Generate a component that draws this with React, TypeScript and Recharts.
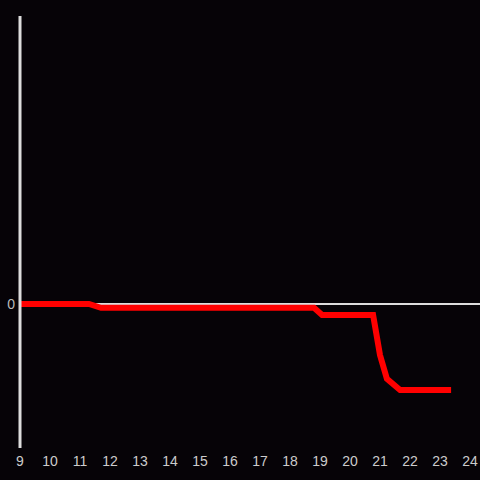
import React from 'react';
import { LineChart, Line, XAxis, YAxis, ReferenceLine } from 'recharts';

const hours = [9, 11.3, 11.7, 18.8, 19.07, 20.77, 21.0, 21.23, 21.67, 23.37];
const values = [0, 0, -0.026, -0.026, -0.076, -0.076, -0.354, -0.52, -0.597, -0.597];
const xTicks = [9, 10, 11, 12, 13, 14, 15, 16, 17, 18, 19, 20, 21, 22, 23, 24];
const yTicks = [0];

const data = hours.map((h, i) => ({ h, v: values[i] }));

export default function App() {
  return (
    <div style={{ position: 'fixed', left: 0, top: 0, width: 480, height: 480, background: '#060307' }}>
      <LineChart width={480} height={480} data={data} margin={{ top: 16, right: 0, bottom: 2, left: 0 }}>
        <XAxis
          dataKey="h"
          type="number"
          domain={[9, 24.3333]}
          ticks={xTicks}
          axisLine={false}
          tickLine={false}
          tickSize={6}
          tickMargin={2}
          height={30}
          tick={{ fill: '#cccccc', fontSize: 14, fontFamily: 'Liberation Sans, Arial, sans-serif' }}
          interval={0}
          allowDataOverflow
        />
        <YAxis
          type="number"
          domain={[-1, 2]}
          ticks={yTicks}
          width={20}
          axisLine={{ stroke: '#dddddd', strokeWidth: 3 }}
          tickLine={false}
          tickSize={3}
          tickMargin={2}
          tick={{ fill: '#bbbbbb', fontSize: 14, fontFamily: 'Liberation Sans, Arial, sans-serif' }}
          allowDataOverflow
        />
        <ReferenceLine y={0} stroke="#dddddd" strokeWidth={2} />
        <Line
          type="linear"
          dataKey="v"
          stroke="#ff0000"
          strokeWidth={6}
          dot={false}
          isAnimationActive={false}
        />
      </LineChart>
    </div>
  );
}
